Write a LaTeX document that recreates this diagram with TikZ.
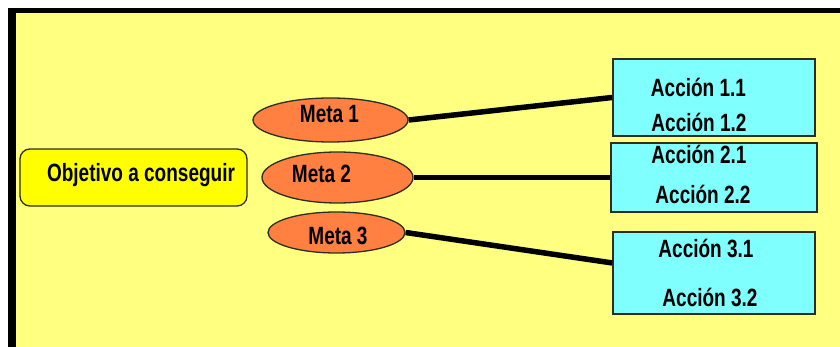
\documentclass[tikz,border=0pt]{standalone}
\usepackage{fontspec}
\newfontfamily\lblfont{Liberation Sans}[FakeStretch=0.76]
\usetikzlibrary{shapes.geometric,calc}

\definecolor{bgyellow}{RGB}{255,255,128}
\definecolor{goalyellow}{RGB}{255,255,0}
\definecolor{metaorange}{RGB}{255,128,64}
\definecolor{accioncyan}{RGB}{128,255,255}
\definecolor{edgegray}{RGB}{45,45,35}

\begin{document}
\begin{tikzpicture}[x=1pt,y=-1pt,
  lbl/.style={font=\lblfont\bfseries\fontsize{25}{27}\selectfont, inner sep=0pt, anchor=base},
  goal/.style={draw=edgegray, line width=1.3pt, fill=goalyellow, rounded corners=10pt,
               minimum width=227pt, minimum height=57pt, inner sep=0pt},
  meta/.style={ellipse, draw=edgegray, line width=1.3pt, fill=metaorange, inner sep=0pt},
  accion/.style={draw=edgegray, line width=1.8pt, fill=accioncyan, inner sep=0pt},
  link/.style={line width=5.5pt, black}]

\useasboundingbox (0,0) rectangle (840,347);
\clip (0,0) rectangle (840,347);

% page frame: black border on the left and top, yellow panel
\fill[black] (8,8) rectangle (870,370);
\fill[bgyellow] (16,13.5) rectangle (870,370);

% goal
\node[goal] (obj) at (133.5,177.5) {};
\node[lbl] (objtxt) at (141,181.5) {Objetivo a conseguir};

% goals (metas)
\node[meta, minimum width=155pt, minimum height=44pt] (m1) at (330.5,120) {};
\node[meta, minimum width=151pt, minimum height=51pt] (m2) at (337.5,177.5) {};
\node[meta, minimum width=137pt, minimum height=41pt] (m3) at (336.5,232.5) {};
\node[lbl] (m1txt) at (329.5,123) {Meta 1};
\node[lbl] (m2txt) at (321.5,182.5) {Meta 2};
\node[lbl] (m3txt) at (338,244) {Meta 3};

% action boxes
\node[accion, minimum width=202pt, minimum height=77pt] (b1) at (714,97.5) {};
\node[accion, minimum width=206pt, minimum height=69pt] (b2) at (714,177.5) {};
\node[accion, minimum width=202pt, minimum height=82pt] (b3) at (714,273) {};

\node[lbl] (a11) at (698.5,96.5) {Acción 1.1};
\node[lbl] (a12) at (699,132) {Acción 1.2};
\node[lbl] (a21) at (699,164) {Acción 2.1};
\node[lbl] (a22) at (703,204) {Acción 2.2};
\node[lbl] (a31) at (706,258) {Acción 3.1};
\node[lbl] (a32) at (710,306) {Acción 3.2};

% connectors
\coordinate (b3in) at ($(b3.north west)!0.38!(b3.south west)$);
\draw[link] (m1.east) -- (b1.west);
\draw[link] (m2.east) -- (b2.west);
\draw[link] (m3.east) -- (b3in);
\end{tikzpicture}
\end{document}
